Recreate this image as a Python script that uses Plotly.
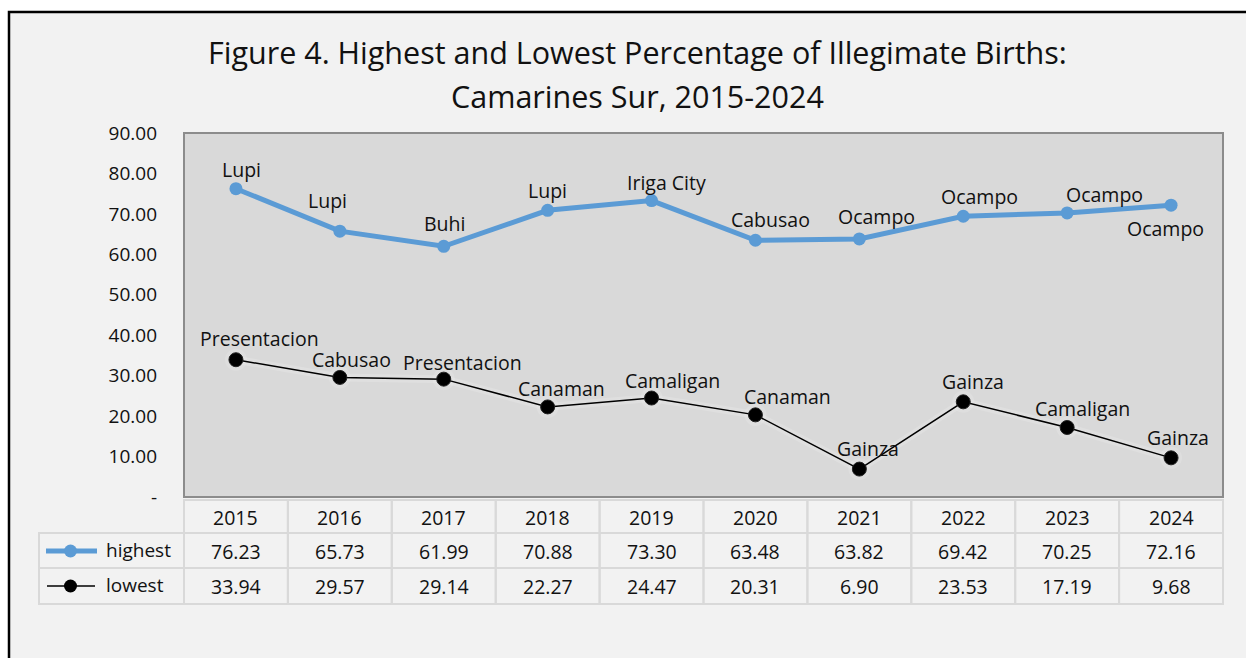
import plotly.graph_objects as go

years = ["2015", "2016", "2017", "2018", "2019", "2020", "2021", "2022", "2023", "2024"]
highest = [76.23, 65.73, 61.99, 70.88, 73.30, 63.48, 63.82, 69.42, 70.25, 72.16]
lowest = [33.94, 29.57, 29.14, 22.27, 24.47, 20.31, 6.90, 23.53, 17.19, 9.68]
highest_names = ["Lupi", "Lupi", "Buhi", "Lupi", "Iriga City", "Cabusao", "Ocampo", "Ocampo", "Ocampo", "Ocampo"]
lowest_names = ["Presentacion", "Cabusao", "Presentacion", "Canaman", "Camaligan", "Canaman", "Gainza", "Gainza", "Camaligan", "Gainza"]
ytick_vals = [0, 10, 20, 30, 40, 50, 60, 70, 80, 90]
ytick_text = ["-", "10.00", "20.00", "30.00", "40.00", "50.00", "60.00", "70.00", "80.00", "90.00"]
title_lines = ["Figure 4. Highest and Lowest Percentage of Illegimate Births:", "Camarines Sur, 2015-2024"]

# label nudges (pixels) — styling only
hi_dx = [6, -12, 1, 0, 15, 15, 17, 16, 37, -6]
hi_dy = [19, 31, 23, 20, 18, 21, 22, 20, 18, -23]
lo_dx = [24, 12, 19, 14, 21, 32, 9, 10, 15, 7]
lo_dy = [21, 18, 17, 18, 18, 18, 21, 20, 19, 20]

FONT = "Open Sans"
TXT = "#111111"
BLUE = "#5b9bd5"
W, H = 1246, 658
L, R, T, B = 184, 1223, 133, 497


def fx(p):
    return (p - L) / (R - L)


def fy(p):
    return (B - p) / (B - T)


idx = list(range(len(years)))

fig = go.Figure()

# soft glow under the lowest line
fig.add_trace(go.Scatter(
    x=idx, y=lowest, mode="lines+markers",
    line=dict(color="rgba(255,255,255,0.16)", width=8),
    marker=dict(size=22, color="rgba(255,255,255,0.14)"),
    hoverinfo="skip", showlegend=False,
))
fig.add_trace(go.Scatter(
    x=idx, y=highest, mode="lines+markers", name="highest",
    line=dict(color=BLUE, width=5),
    marker=dict(size=13, color=BLUE),
    showlegend=False,
))
fig.add_trace(go.Scatter(
    x=idx, y=lowest, mode="lines+markers", name="lowest",
    line=dict(color="#000000", width=1.5),
    marker=dict(size=14, color="#000000", line=dict(color="#222222", width=1)),
    showlegend=False,
))

shapes = []
# outer frame
shapes.append(dict(type="rect", xref="paper", yref="paper",
                   x0=fx(9), x1=fx(1300), y0=fy(12), y1=fy(720),
                   line=dict(color="#000000", width=2.5), fillcolor="#f2f2f2", layer="below"))
# plot area
shapes.append(dict(type="rect", xref="paper", yref="paper",
                   x0=0, x1=1, y0=0, y1=1,
                   line=dict(color="#8c8c8c", width=2), fillcolor="#d9d9d9", layer="below"))

# data table grid
grid = "#d9d9d9"
colw = (R - L) / len(years)
row_tops = [500, 533, 568]
row_bots = [533, 568, 604]
for r in range(3):
    for i in range(len(years)):
        shapes.append(dict(type="rect", xref="paper", yref="paper",
                           x0=fx(L + i * colw), x1=fx(L + (i + 1) * colw),
                           y0=fy(row_tops[r]), y1=fy(row_bots[r]),
                           line=dict(color=grid, width=2), fillcolor="rgba(0,0,0,0)"))
    if r > 0:
        shapes.append(dict(type="rect", xref="paper", yref="paper",
                           x0=fx(39), x1=fx(L), y0=fy(row_tops[r]), y1=fy(row_bots[r]),
                           line=dict(color=grid, width=2), fillcolor="rgba(0,0,0,0)"))

# legend keys inside table
shapes.append(dict(type="line", xref="paper", yref="paper",
                   x0=fx(46), x1=fx(97), y0=fy(551), y1=fy(551),
                   line=dict(color=BLUE, width=5)))
shapes.append(dict(type="circle", xref="paper", yref="paper",
                   x0=fx(64), x1=fx(77), y0=fy(544.5), y1=fy(557.5),
                   line=dict(color=BLUE, width=0), fillcolor=BLUE))
shapes.append(dict(type="line", xref="paper", yref="paper",
                   x0=fx(47), x1=fx(95), y0=fy(586), y1=fy(586),
                   line=dict(color="#000000", width=1.5)))
shapes.append(dict(type="circle", xref="paper", yref="paper",
                   x0=fx(64), x1=fx(77), y0=fy(579.5), y1=fy(592.5),
                   line=dict(color="#000000", width=0), fillcolor="#000000"))

annotations = []
# title
for k, ty in enumerate([52, 96]):
    annotations.append(dict(text=title_lines[k], xref="paper", yref="paper", x=fx(637.5), y=fy(ty),
                            xanchor="center", yanchor="middle", showarrow=False,
                            font=dict(family=FONT, size=30.5, color=TXT)))

# data labels
for i in idx:
    annotations.append(dict(text=highest_names[i], x=i, y=highest[i], xref="x", yref="y",
                            xshift=hi_dx[i], yshift=hi_dy[i], showarrow=False,
                            xanchor="center", yanchor="middle",
                            font=dict(family=FONT, size=19.5, color=TXT)))
    annotations.append(dict(text=lowest_names[i], x=i, y=lowest[i], xref="x", yref="y",
                            xshift=lo_dx[i], yshift=lo_dy[i], showarrow=False,
                            xanchor="center", yanchor="middle",
                            font=dict(family=FONT, size=19.5, color=TXT)))

# table text
row_centers = [517, 551, 586]
for i in idx:
    cells = [years[i], f"{highest[i]:.2f}", f"{lowest[i]:.2f}"]
    for r in range(3):
        annotations.append(dict(text=cells[r], x=i, y=fy(row_centers[r]), xref="x", yref="paper",
                                showarrow=False, xanchor="center", yanchor="middle",
                                font=dict(family=FONT, size=19.5, color=TXT)))
annotations.append(dict(text="highest", xref="paper", yref="paper", x=fx(104), y=fy(550),
                        xanchor="left", yanchor="middle", showarrow=False,
                        font=dict(family=FONT, size=19, color=TXT)))
annotations.append(dict(text="lowest", xref="paper", yref="paper", x=fx(104), y=fy(585),
                        xanchor="left", yanchor="middle", showarrow=False,
                        font=dict(family=FONT, size=19, color=TXT)))

fig.update_layout(
    width=W, height=H,
    margin=dict(l=L, r=W - R, t=T, b=H - B, pad=0),
    paper_bgcolor="#ffffff",
    plot_bgcolor="rgba(0,0,0,0)",
    shapes=shapes,
    annotations=annotations,
    showlegend=False,
    font=dict(family=FONT, size=18, color=TXT),
    xaxis=dict(range=[-0.5, 9.5], showgrid=False, showticklabels=False,
               zeroline=False, showline=False, ticks=""),
    yaxis=dict(range=[0, 90], tickvals=ytick_vals, ticktext=ytick_text, showgrid=False,
               zeroline=False, showline=False, ticks="", ticklabelstandoff=26,
               tickfont=dict(family=FONT, size=19, color=TXT)),
)

fig.write_html("out.html", config={"displayModeBar": False},
               post_script="document.body.style.margin='0px';document.body.style.overflow='hidden';")
